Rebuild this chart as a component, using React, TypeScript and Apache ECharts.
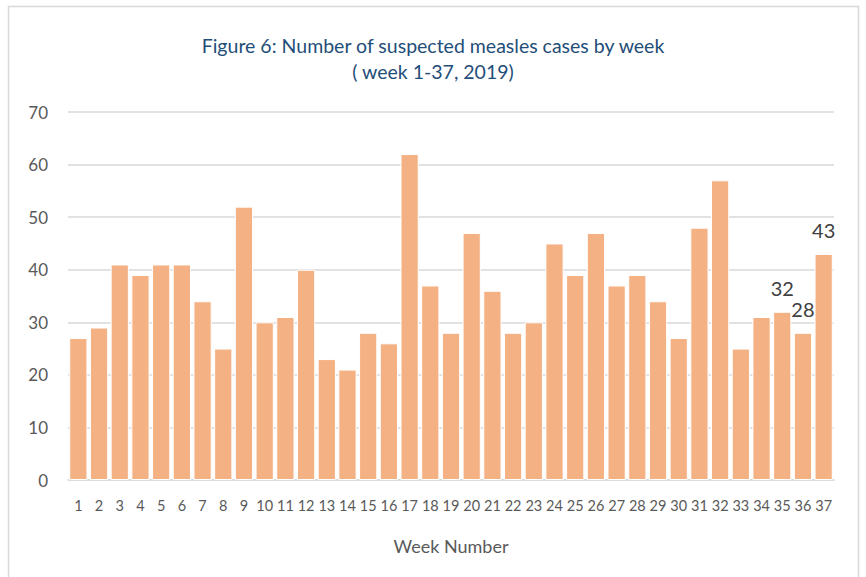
import React, { useEffect, useRef } from "react";
import * as echarts from "echarts";

const weeks = Array.from({ length: 37 }, (_, i) => String(i + 1));
const cases = [27, 29, 41, 39, 41, 41, 34, 25, 52, 30, 31, 40, 23, 21, 28, 26, 62, 37, 28, 47, 36, 28, 30, 45, 39, 47, 37, 39, 34, 27, 48, 57, 25, 31, 32, 28, 43];
const labelledWeeks = ["35", "36", "37"];
const yTicks = { min: 0, max: 70, interval: 10 };
const titleText = "Figure 6: Number of suspected measles cases by week\n( week 1-37, 2019)";
const xName = "Week Number";

export default function App() {
  const ref = useRef<HTMLDivElement>(null);
  useEffect(() => {
    document.body.style.margin = "0";
    const chart = echarts.init(ref.current!, null, { renderer: "svg" });
    const font = "Lato, 'Open Sans', sans-serif";
    chart.setOption({
      animation: false,
      backgroundColor: "#ffffff",
      textStyle: { fontFamily: font },
      title: {
        text: titleText,
        left: "center",
        top: 27,
        textStyle: { color: "#1F4E79", fontSize: 19.5, fontWeight: "normal", lineHeight: 26, fontFamily: font },
      },
      graphic: [
        {
          type: "rect",
          shape: { x: 8.5, y: 6.5, width: 850, height: 600 },
          style: { fill: "none", stroke: "#D9D9D9", lineWidth: 1.5 },
          silent: true,
        },
      ],
      grid: { left: 68, right: 32, top: 112, bottom: 97 },
      xAxis: {
        type: "category",
        data: weeks,
        name: xName,
        nameLocation: "middle",
        nameGap: 57,
        nameTextStyle: { color: "#595959", fontSize: 18, fontFamily: font },
        axisLine: { lineStyle: { color: "#D9D9D9", width: 1.5 } },
        axisTick: { show: false },
        axisLabel: { interval: 0, color: "#595959", fontSize: 14.5, margin: 18, fontFamily: font },
      },
      yAxis: {
        type: "value",
        min: yTicks.min,
        max: yTicks.max,
        interval: yTicks.interval,
        axisLine: { show: false },
        axisTick: { show: false },
        splitLine: { lineStyle: { color: "#D9D9D9", width: 1.5 } },
        axisLabel: { color: "#595959", fontSize: 17, margin: 20, fontFamily: font },
      },
      series: [
        {
          type: "bar",
          barCategoryGap: "12%",
          data: cases.map((v, i) => ({
            value: v,
            label: {
              show: labelledWeeks.includes(weeks[i]),
              position: "top",
              distance: 14,
              color: "#404040",
              fontSize: 20,
              fontFamily: font,
            },
          })),
          itemStyle: { color: "#F4B183", borderColor: "#ffffff", borderWidth: 1 },
        },
      ],
    });
    return () => chart.dispose();
  }, []);
  return <div ref={ref} style={{ width: 866, height: 577, position: "absolute", left: 0, top: 0 }} />;
}
